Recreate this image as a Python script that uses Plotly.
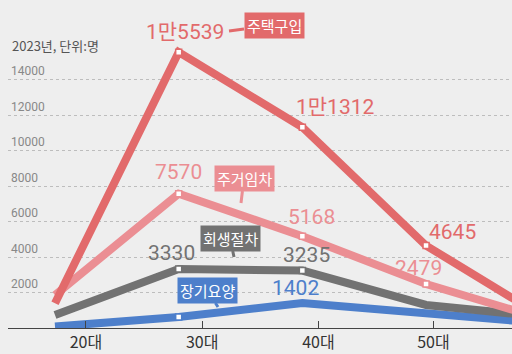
import plotly.graph_objects as go

# ---- data ----
age_groups = ["20대", "30대", "40대", "50대", "60대"]
x_idx = [0, 1, 2, 3, 4]
house_buy = [1400, 15539, 11312, 4645, 400]      # 주택구입
house_rent = [1850, 7570, 5168, 2479, 400]       # 주거임차
rehab = [730, 3330, 3235, 1300, 600]             # 회생절차
care = [80, 620, 1402, 900, 250]                 # 장기요양
tick_labels = ["20대", "30대", "40대", "50대"]
y_ticks = [2000, 4000, 6000, 8000, 10000, 12000, 14000]

# ---- style ----
W, H = 512, 354
ML, MR, MT, MB = 8, 0, 0, 26
XR = [-0.38, 3.695]
YR = [0, 18480]
BG = "#eeeeee"
RED = "#e26a6b"
PINK = "#eb8e93"
GRAY = "#727272"
BLUE = "#4d7fcb"
NUMFONT = "Liberation Sans Narrow, Arial Narrow, Roboto, Noto Sans CJK KR, sans-serif"
KRFONT = "Noto Sans CJK KR, sans-serif"

pw, ph = W - ML - MR, H - MT - MB


def px2x(px):
    return XR[0] + (px - ML) / pw * (XR[1] - XR[0])


def py2y(py):
    return YR[0] + (H - MB - py) / ph * (YR[1] - YR[0])


series = [
    ("장기요양", care, BLUE, [1]),
    ("회생절차", rehab, GRAY, [1, 2]),
    ("주거임차", house_rent, PINK, [1, 2, 3]),
    ("주택구입", house_buy, RED, [1, 2, 3]),
]

fig = go.Figure()
for name, vals, col, mk in series:
    fig.add_trace(go.Scatter(
        x=x_idx, y=vals, mode="lines", name=name,
        line=dict(color=col, width=8), hoverinfo="skip", showlegend=False,
    ))
for name, vals, col, mk in series:
    fig.add_trace(go.Scatter(
        x=[x_idx[i] for i in mk], y=[vals[i] for i in mk], mode="markers",
        marker=dict(symbol="square", size=6, color="white", line=dict(color=col, width=1.5)),
        hoverinfo="skip", showlegend=False,
    ))

annotations = []


def fmt(v):
    if v >= 10000:
        return f"{v // 10000}만{v % 10000}"
    return str(v)


# value labels: (series, index, xshift, yshift, color)
value_labels = [
    (house_buy, 1, 6, 20, RED),
    (house_buy, 2, 33, 20, RED),
    (house_buy, 3, 26, 14, RED),
    (house_rent, 1, 0, 22, PINK),
    (house_rent, 2, 9, 19, PINK),
    (house_rent, 3, -8, 16, PINK),
    (rehab, 1, -7, 16, GRAY),
    (rehab, 2, 4, 16, GRAY),
    (care, 2, -7, 15, BLUE),
]
for vals, i, xs, ys, col in value_labels:
    annotations.append(dict(
        x=x_idx[i], y=vals[i], text=fmt(vals[i]), showarrow=False,
        xshift=xs, yshift=ys, font=dict(family=NUMFONT, size=21, color=col),
        xanchor="center", yanchor="middle",
    ))

# series name boxes with tails: (name, tip px, box offset, color)
boxes = [
    ("주택구입", (229, 31), (45, -6), RED),
    ("주거임차", (241, 203), (3, -25), PINK),
    ("회생절차", (234, 257), (-4, -19), GRAY),
    ("장기요양", (218, 307), (-11, -17), BLUE),
]
for name, (tx, ty), (ax, ay), col in boxes:
    annotations.append(dict(
        x=px2x(tx), y=py2y(ty), text=name, showarrow=True,
        ax=ax, ay=ay, axref="pixel", ayref="pixel",
        arrowhead=0, arrowwidth=3, arrowcolor=col, standoff=0, startstandoff=0,
        bgcolor=col, borderpad=2, font=dict(family=KRFONT, size=15, color="white"),
    ))

annotations.append(dict(
    xref="paper", yref="paper", x=(10 - ML) / pw, y=(H - MB - 45) / ph,
    text="2023년, 단위:명", showarrow=False, xanchor="left", yanchor="middle",
    font=dict(family=KRFONT, size=13, color="#555555"),
))

fig.update_layout(
    width=W, height=H,
    margin=dict(l=ML, r=MR, t=MT, b=MB, pad=0),
    paper_bgcolor=BG, plot_bgcolor=BG,
    annotations=annotations,
    xaxis=dict(
        range=XR, tickmode="array", tickvals=[0.25, 1.19, 2.13, 3.06], ticktext=tick_labels,
        showgrid=False, zeroline=False, showline=True, linecolor="#444", linewidth=1,
        ticks="inside", ticklen=7, tickcolor="#444", tickwidth=1,
        tickfont=dict(family=KRFONT, size=16, color="#333333"), fixedrange=True,
    ),
    yaxis=dict(
        range=YR, tickmode="array", tickvals=y_ticks,
        ticktext=[str(v) for v in y_ticks],
        ticklabelposition="inside top", showgrid=True, gridcolor="#bdbdbd", griddash="dot",
        gridwidth=1, zeroline=False, showline=False,
        tickfont=dict(family=NUMFONT, size=12, color="#888888"), fixedrange=True,
    ),
)

fig.write_html("out.html")
